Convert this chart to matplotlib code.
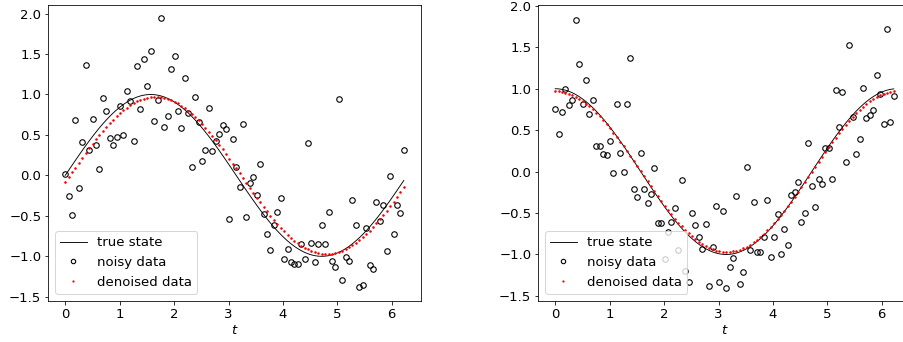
import numpy as np
import matplotlib.pyplot as plt

plt.rcParams['font.size'] = 13.2

# tempo: 100 pontos em [0, 2pi)
n_pts = 100
t = np.linspace(0, 2 * np.pi, n_pts, endpoint=False)

# dados ruidosos (painel esquerdo: seno)
noisy_sin = [0.015, -0.25, -0.495, 0.68, -0.155, 0.41, 1.37, 0.31, 0.70, 0.37,
             0.08, 0.955, 0.80, 0.46, 0.37, 0.48, 0.855, 0.495, 1.04, 0.92,
             0.43, 1.35, 0.82, 1.435, 1.10, 1.54, 0.67, 0.93, 1.94, 0.60,
             0.74, 1.31, 1.475, 0.79, 0.59, 1.20, 0.77, 0.10, 0.975, 0.66,
             0.18, 0.31, 0.83, 0.305, 0.42, 0.515, 0.62, 0.57, -0.535, 0.45,
             0.105, -0.14, 0.63, -0.52, -0.096, -0.022, -0.236, 0.14, -0.48, -0.73,
             -0.925, -0.61, -0.455, -0.28, -1.03, -0.91, -1.07, -1.09, -1.095, -0.85,
             -1.03, 0.40, -0.83, -1.07, -0.85, -0.615, -0.85, -0.45, -1.06, -1.135,
             0.94, -1.29, -1.01, -1.06, -0.305, -0.615, -1.38, -1.35, -0.645, -1.105,
             -1.155, -0.33, -0.56, -0.363, -0.94, -0.006, -0.73, -0.363, -0.47, 0.31]

# painel direito: cosseno
noisy_cos = [0.75, 0.45, 0.72, 0.995, 0.80, 0.86, 1.83, 1.30, 0.81, 1.10,
             0.695, 0.86, 0.31, 0.31, 0.21, 0.20, 0.37, -0.02, 0.81, 0.23,
             -0.01, 0.82, 1.37, -0.205, -0.31, 0.23, -0.205, -0.38, -0.265, 0.04,
             -0.62, -0.62, -1.05, -0.725, -0.61, -0.44, -0.95, -0.10, -1.2, -1.33,
             -0.505, -0.645, -0.785, -0.935, -0.63, -1.38, -0.905, -0.42, -1.335, -0.47,
             -1.40, -1.15, -1.04, -0.29, -1.36, -1.215, 0.05, -0.945, -0.37, -0.965,
             -0.97, -0.79, -0.345, -1.03, -0.79, -0.515, -0.995, -0.695, -0.885, -0.285,
             -0.25, -0.125, -0.61, -0.495, 0.35, -0.17, -0.43, -0.085, -0.15, 0.28,
             0.28, -0.09, 0.98, 0.54, 0.955, 0.117, 1.525, 0.655, 0.217, 0.39,
             1.01, 0.65, 0.68, 0.74, 1.17, 0.94, 0.58, 1.72, 0.60, 0.91]


def denoise(y):  # projeta os dados no modelo do oscilador (sin, cos)
    A = np.column_stack([np.sin(t), np.cos(t)])
    coef, *_ = np.linalg.lstsq(A, np.asarray(y), rcond=None)
    return A @ coef


true_states = [np.sin(t), np.cos(t)]
noisy_sets = [noisy_sin, noisy_cos]
y_limits = [None, (-1.555, 2.01)]

fig = plt.figure(figsize=(903 / 72, 342 / 72), dpi=72)
positions = [[48.3 / 903, 41.5 / 342, 372.4 / 903, 295.5 / 342],
             [538.3 / 903, 41.5 / 342, 372.4 / 903, 295.5 / 342]]

for pos, true_y, noisy_y, ylim in zip(positions, true_states, noisy_sets, y_limits):
    ax = fig.add_axes(pos)
    ax.plot(t, true_y, 'k-', lw=0.9, label='true state')
    ax.plot(t, noisy_y, 'o', mfc='none', mec='k', ms=5.5, mew=1.1, label='noisy data')
    ax.plot(t, denoise(noisy_y), 'r.', ms=3, label='denoised data')
    if ylim is not None:
        ax.set_ylim(ylim)
    ax.set_xlabel('$t$', labelpad=3)
    ax.legend(loc='lower left', markerscale=0.8)

fig.savefig('out.png', dpi=72)
